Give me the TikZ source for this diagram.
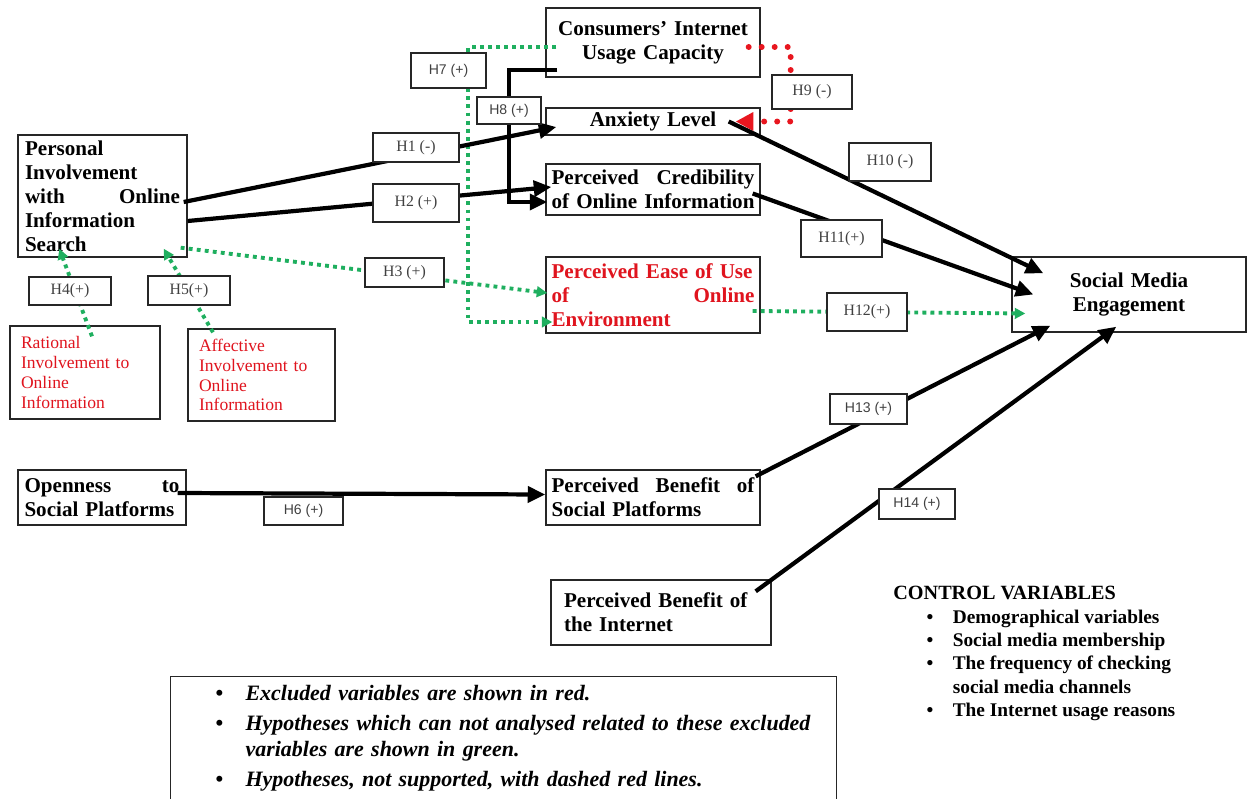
\documentclass[tikz,border=0pt]{standalone}
\usepackage{fontspec}
\setmainfont{Liberation Serif}
\newfontfamily\hypfont{Liberation Sans}
\usepackage{xcolor}
\usepackage{tikz}
\usetikzlibrary{arrows.meta,positioning,calc}
\definecolor{exclred}{HTML}{E0141E}
\definecolor{nogreen}{HTML}{1FAF5F}
\definecolor{rejred}{HTML}{E8161F}

\begin{document}
\begin{tikzpicture}[
        x=0.02cm, y=-0.02cm,
        var/.style={draw=black!85, line width=0.8pt, fill=white, inner ysep=1pt,
            inner xsep=0.11cm, text width=4.06cm, align=center,
            font=\bfseries\fontsize{12}{13.6}\selectfont},
        excl/.style={var, text=exclred},
        exclsm/.style={draw=black!85, line width=0.8pt, fill=white, inner xsep=0.22cm,
            align=left, text=exclred, font=\fontsize{10}{11.3}\selectfont},
        hyp/.style={draw=black!85, line width=0.7pt, fill=white, inner sep=1pt,
            minimum width=1.6cm, minimum height=0.6cm, text=black!75,
            font=\fontsize{9}{10}\selectfont},
        hypsf/.style={hyp, font=\hypfont\fontsize{8}{9}\selectfont},
        effect/.style={draw=black, line width=2.4pt,
            -{Triangle[length=10pt,width=9pt]}},
        nogo/.style={draw=nogreen, line width=2.2pt, dash pattern=on 2.2pt off 2.4pt,
            -{Triangle[length=6pt,width=6pt]}},
        rejected/.style={draw=rejred, line width=3.4pt, line cap=round,
            dash pattern=on 0pt off 7.4pt, -{Triangle[length=10pt,width=10pt]}},
        note/.style={align=left, inner sep=0pt}
    ]
    \useasboundingbox (0,0) rectangle (1250,798);

    % ================= variables =========================
    \node[var, align=left, text width=3.1cm, inner xsep=0.14cm, minimum height=2.44cm] (pers)
        at (102.5,196) {Personal\\Involvement\\with\hfill Online\\Information\\Search};
    \node[var, minimum height=1.38cm] (cap) at (653,42.5) {Consumers' Internet\\Usage Capacity};
    \node[var, minimum height=0.54cm] (anx) at (653,121.5) {Anxiety Level};
    \node[var, align=left, minimum height=1.02cm] (cred) at (653,189.5)
        {Perceived\hfill Credibility\\of\hfill Online\hfill Information};
    \node[excl, align=left, minimum height=1.52cm] (ease) at (653,295)
        {Perceived Ease of Use\\of\hfill Online\\Environment};
    \node[var, text width=4.4cm, minimum width=4.68cm, minimum height=1.5cm] (sme)
        at (1129,294.5) {Social Media\\Engagement};

    % excluded antecedents (red)
    \node[exclsm, text width=2.56cm, minimum height=1.86cm] (rat) at (85,372.5)
        {Rational\\Involvement to\\Online\\Information};
    \node[exclsm, text width=2.5cm, minimum height=1.84cm] (aff) at (261.5,375)
        {Affective\\Involvement to\\Online\\Information};

    \node[var, align=left, text width=3.1cm, inner xsep=0.13cm, minimum height=1.1cm] (open)
        at (102,497.5) {Openness\hfill to\\Social Platforms};
    \node[var, align=left, minimum height=1.1cm] (bsp) at (653,497.5)
        {Perceived\hfill Benefit\hfill of\\Social Platforms};
    \node[var, align=left, text width=3.88cm, inner xsep=0.26cm, minimum height=1.3cm] (bint)
        at (661,612.5) {Perceived Benefit of\\the Internet};

    % ================= hypotheses: paths =========================
    % not analysed (green) and not supported (red) first, black on top
    \draw[nogo] ($(pers.south east)+(-7,-10)$) -- ($(ease.west)+(2,-2)$);        % H3
    \draw[nogo] ($(rat.north)+(7,11)$) -- ($(pers.south west)+(42,-9)$);         % H4
    \draw[nogo] ($(aff.north)+(-48.5,4)$) -- ($(pers.south east)+(-24,-9)$);     % H5
    \draw[nogo] ($(cap.west)+(11,4.5)$) -- ++(-88,0) |- ($(ease.west)+(7,27)$);  % H7
    \draw[nogo] ($(ease.east)+(-8,16)$) -- ($(sme.west)+(14,19)$);               % H12
    \draw[rejected] ($(cap.east)+(-12,4.5)$) -- ++(42,0) |- ($(anx.east)+(-25,0)$); % H9

    \draw[effect] ($(pers.east)+(-4,6)$) -- ($(anx.west)+(11,5.5)$);             % H1
    \draw[effect] ($(pers.east)+(0,25)$) -- ($(cred.west)+(6,-2.5)$);            % H2
    \draw[effect] ($(open.east)+(-9,-4.5)$) -- ($(bsp.west)+(0,-3)$);            % H6
    \draw[effect] ($(cap.south west)+(12,-8)$) -- ++(-48,0) |- ($(cred.west)+(2,12.5)$); % H8
    \draw[effect] ($(anx.east)+(-32,0)$) -- ($(sme.north west)+(32,17)$);        % H10
    \draw[effect] ($(cred.east)+(-8,4)$) -- ($(sme.west)+(22,0)$);               % H11
    \draw[effect] ($(bsp.north east)+(-5,7)$) -- ($(sme.south west)+(39,-7)$);   % H13
    \draw[effect] ($(bint.north east)+(-16,12)$) -- ($(sme.south west)+(105,-6)$); % H14

    % ================= hypotheses: labels =========================
    \node[hyp, minimum width=1.72cm, minimum height=0.58cm] (h1) at (416,147.5) {H1 (-)};
    \node[hyp, minimum width=1.72cm, minimum height=0.76cm] (h2) at (416,203) {H2 (+)};
    \node[hyp, minimum width=1.58cm, minimum height=0.58cm] (h3) at (404.5,272.5) {H3 (+)};
    \node[hyp, minimum width=1.64cm, minimum height=0.56cm] (h4) at (70,291) {H4(+)};
    \node[hyp, minimum width=1.64cm, minimum height=0.58cm] (h5) at (189,290.5) {H5(+)};
    \node[hypsf, minimum width=1.58cm, minimum height=0.56cm] (h6) at (303.5,511) {H6 (+)};
    \node[hypsf, minimum width=1.5cm, minimum height=0.7cm] (h7) at (448.5,70.5) {H7 (+)};
    \node[hypsf, minimum width=1.28cm, minimum height=0.54cm] (h8) at (509,110.5) {H8 (+)};
    \node[hyp, minimum width=1.6cm, minimum height=0.68cm] (h9) at (812,92) {H9 (-)};
    \node[hyp, minimum width=1.64cm, minimum height=0.76cm] (h10) at (890,162) {H10 (-)};
    \node[hyp, minimum width=1.62cm, minimum height=0.74cm] (h11) at (841.5,238.5) {H11(+)};
    \node[hyp, minimum width=1.6cm, minimum height=0.76cm] (h12) at (867,312) {H12(+)};
    \node[hypsf, minimum width=1.54cm, minimum height=0.6cm] (h13) at (868.5,409) {H13 (+)};
    \node[hypsf, minimum width=1.52cm, minimum height=0.6cm] (h14) at (917,504) {H14 (+)};

    % ================= control variables and legend =========================
    \node[note, anchor=north west, font=\bfseries\fontsize{11}{13.3}\selectfont] (ctrl)
        at (893,583) {\begin{tabular}{@{\hspace{19pt}}c@{\hspace{11pt}}l@{}}
            \multicolumn{2}{@{}l}{\fontsize{11.5}{13.3}\selectfont CONTROL VARIABLES}\\
            \textbullet & Demographical variables\\
            \textbullet & Social media membership\\
            \textbullet & The frequency of checking\\
                        & social media channels\\
            \textbullet & The Internet usage reasons
        \end{tabular}};

    \node[draw=black!85, line width=0.8pt, anchor=north west, minimum width=13.32cm,
        minimum height=2.44cm, inner xsep=0.9cm, text width=11.52cm, align=left,
        font=\bfseries\itshape\fontsize{12.5}{14.7}\selectfont] (legend) at (170,676)
        {\begin{tabular}{@{}p{17pt}@{}l@{}}
            {\upshape\textbullet} & Excluded variables are shown in red.\\[2.3pt]
            {\upshape\textbullet} & Hypotheses which can not analysed related to these excluded\\
                                  & variables are shown in green.\\[2.3pt]
            {\upshape\textbullet} & Hypotheses, not supported, with dashed red lines.
        \end{tabular}};
\end{tikzpicture}
\end{document}
